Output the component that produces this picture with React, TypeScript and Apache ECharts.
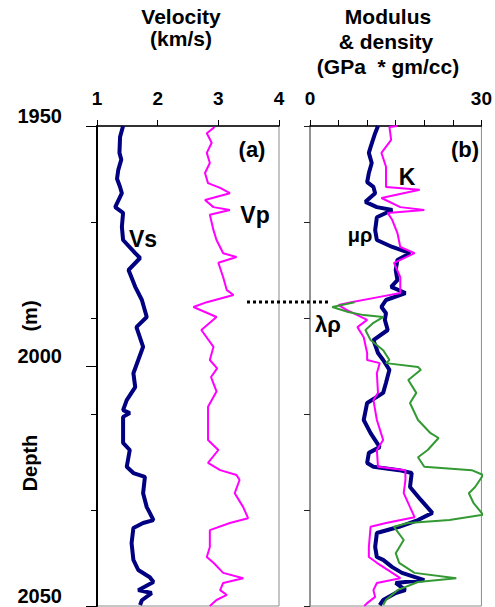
import React, { useEffect, useRef } from "react";
import * as echarts from "echarts";

// Depth axis and tick labels
const depthMin = 1950;
const depthMax = 2050;
const depthLabels = [1950, 2000, 2050];
const velocityTicks = [1, 2, 3, 4];
const modulusTickLabels = [0, 30];

// [depth (m), value] pairs
const vsLog: [number, number][] = [
  [1950, 1.43], [1952.3, 1.38], [1955.6, 1.37], [1957, 1.40], [1959.2, 1.35], [1961, 1.33],
  [1962.7, 1.38], [1964, 1.41], [1966.9, 1.30], [1968.1, 1.43], [1971, 1.41], [1973.75, 1.43],
  [1976.5, 1.63], [1977.5, 1.71], [1980, 1.52], [1983.5, 1.63], [1986.25, 1.74], [1989.8, 1.82],
  [1991.9, 1.65], [1996, 1.76], [1998.75, 1.68], [2001.5, 1.6], [2004.4, 1.63], [2007.1, 1.49],
  [2009.2, 1.43], [2009.8, 1.54], [2010.6, 1.43], [2016, 1.43], [2017.5, 1.54], [2021, 1.49],
  [2022.3, 1.6], [2023.1, 1.79], [2026.5, 1.76], [2029.4, 1.82], [2030.6, 1.87], [2032.1, 1.93],
  [2032.7, 1.76], [2033.75, 1.6], [2036.9, 1.57], [2040.4, 1.6], [2042.5, 1.68], [2044, 1.87],
  [2045, 1.93], [2046.7, 1.68], [2047.3, 1.9], [2048.8, 1.74], [2049.8, 1.71],
];

const vpLog: [number, number][] = [
  [1950.2, 2.94], [1951.5, 2.81], [1953.5, 2.89], [1955.6, 2.81], [1957.7, 2.86], [1959.8, 2.78],
  [1961.9, 2.83], [1962.9, 3.03], [1964, 3.19], [1965.4, 2.78], [1966.9, 2.92], [1967.5, 3.19],
  [1968.5, 2.86], [1971.7, 2.92], [1973.75, 2.97], [1976.5, 3.08], [1977.3, 3.3], [1978.5, 3.0],
  [1981.5, 3.08], [1984.2, 3.14], [1985.2, 3.25], [1986.7, 2.81], [1987.7, 2.59], [1989.8, 2.97],
  [1992.5, 2.72], [1996, 2.92], [1998.75, 2.86], [2000.5, 2.98], [2002.3, 2.88], [2005.3, 2.97],
  [2008.5, 2.83], [2015.4, 2.83], [2017.5, 3.0], [2020.2, 2.83], [2021.7, 3.03], [2022.7, 3.3],
  [2023.75, 3.35], [2026.5, 3.27], [2029.4, 3.41], [2031.7, 3.49], [2032.7, 3.19], [2034.2, 2.86],
  [2037.7, 2.86], [2039.8, 2.81], [2041, 2.92], [2043.1, 3.08], [2044.2, 3.41], [2045.2, 3.08],
  [2046.7, 3.03], [2047.7, 3.14], [2048.75, 2.97], [2050, 2.86],
];

const muRhoLog: [number, number][] = [
  [1950, 11.9], [1951.5, 11.4], [1954.4, 10.6], [1955.6, 10.3], [1957.7, 10.8], [1959.8, 10.3],
  [1961.7, 10.0], [1962.7, 11.1], [1964, 11.4], [1965.8, 9.7], [1966.9, 11.7], [1967.5, 14.4],
  [1969, 11.7], [1971.7, 11.4], [1973.75, 11.7], [1975.2, 14.4], [1976.5, 17.5], [1977.9, 15.3],
  [1980, 15], [1982.1, 15.3], [1983.5, 14.2], [1984.8, 16.7], [1986.25, 13.3], [1987.7, 12.5],
  [1989, 13.3], [1990.4, 13.1], [1992.5, 13.6], [1994.6, 11.1], [1997.3, 11.9], [1998.75, 12.8],
  [2000.8, 13.9], [2003.5, 13.3], [2005.6, 12.8], [2007.7, 10], [2011.25, 9.4], [2014, 10.6],
  [2016.9, 12.2], [2018.1, 10.3], [2020.2, 10], [2021, 11.1], [2021.7, 15.6], [2022.3, 17.8],
  [2025.2, 17.5], [2027.9, 19.4], [2030.6, 21.4], [2032.1, 18.9], [2033.5, 15.6], [2034.8, 11.7],
  [2037.7, 11.4], [2039.8, 11.7], [2040.4, 12.8], [2041.9, 14.4], [2043.1, 16.1], [2044.6, 20],
  [2045.2, 15], [2046.7, 16.7], [2047.3, 15], [2048.75, 12.8], [2049.8, 12.2],
];

const kLog: [number, number][] = [
  [1950, 15.3], [1950.2, 13.9], [1952.9, 14.2], [1955.6, 12.5], [1958.5, 13.3], [1962.7, 13.3],
  [1963.3, 19.2], [1965, 12.5], [1966.9, 15.8], [1967.5, 20], [1968.1, 13.6], [1969.6, 14.4],
  [1972.3, 15.3], [1975.2, 15.8], [1976.5, 18.3], [1978.5, 14.7], [1981.5, 15.8], [1984.8, 15.8],
  [1985.6, 12.2], [1986.7, 7.2], [1987.3, 5], [1988.3, 6.4], [1990.4, 10], [1991.9, 8.3],
  [1994, 9.4], [1997.3, 10], [1998.75, 10], [1999.4, 12.2], [2001.5, 11.7], [2005.6, 11.9],
  [2007.1, 11.1], [2011.25, 11.7], [2015.4, 12.8], [2017.5, 11.7], [2021, 11.9], [2021.7, 16.7],
  [2023.75, 16.7], [2026.5, 16.4], [2029.4, 17.5], [2031.5, 18.3], [2032.7, 13.3], [2033.5, 10.6],
  [2037.7, 10.3], [2039.8, 10.3], [2041, 11.7], [2043.1, 14.4], [2044.2, 15.8], [2045.2, 11.7],
  [2046.7, 11.1], [2048.1, 11.4], [2049.4, 10], [2050, 9.5],
];

const lambdaRhoLog: [number, number][] = [
  [1986.7, 7.8], [1987.7, 3.9], [1988.75, 6.7], [1989.4, 9.4], [1989.8, 12.8], [1991, 11.1],
  [1992.5, 9.7], [1994.6, 10.6], [1996.7, 12.8], [1998.75, 13.9], [1999.4, 13.3], [2000.2, 18.9],
  [2000.8, 19.4], [2002.9, 17.2], [2005.6, 18.6], [2007.7, 17.5], [2011.25, 18.9], [2014, 21.1],
  [2015, 22.5], [2017.5, 20.6], [2019, 18.9], [2021, 20], [2021.7, 28.3], [2022.7, 30.3],
  [2025.2, 28.9], [2026.5, 27.8], [2028.5, 28.6], [2031, 30.3], [2032.1, 24.4], [2032.7, 17.2],
  [2033.5, 14.7], [2036.25, 16.4], [2039, 15], [2041, 15.6], [2043.1, 18.3], [2044.2, 25.6],
  [2045, 18.9], [2046.7, 15.3], [2048.75, 13.3], [2049.8, 12.8],
];

const FONT = "'Liberation Sans', Arial, sans-serif";
const NAVY = "#000080";
const MAGENTA = "#FF00FF";
const GREEN = "#339933";

const toXY = (log: [number, number][]) => log.map(([d, v]) => [v, d]);

function txt(text: string, x: number, y: number, size = 20, extra: any = {}) {
  return {
    type: "text",
    x,
    y,
    ...extra,
    style: {
      text,
      fill: "#000",
      font: `bold ${size}px ${FONT}`,
      align: "center",
      verticalAlign: "middle",
      ...(extra.style || {}),
    },
  };
}

export default function App() {
  const ref = useRef<HTMLDivElement>(null);
  useEffect(() => {
    const chart = echarts.init(ref.current!, null, { renderer: "svg" });
    const labelStyle = { color: "#000", fontSize: 19, fontWeight: "bold" as const, fontFamily: FONT };
    const depthAxisBase = {
      type: "value" as const,
      inverse: true,
      min: depthMin,
      max: depthMax,
      position: "left" as const,
      splitLine: { show: false },
    };
    const option: any = {
      animation: false,
      backgroundColor: "#fff",
      grid: [
        { left: 97, top: 126, width: 182, height: 480, show: true, borderColor: "#8c8c8c", borderWidth: 1 },
        { left: 310, top: 126, width: 180, height: 480, show: true, borderColor: "#8c8c8c", borderWidth: 1 },
      ],
      xAxis: [
        {
          gridIndex: 0,
          type: "value",
          position: "top",
          min: velocityTicks[0],
          max: velocityTicks[velocityTicks.length - 1],
          interval: 1,
          axisLine: { show: true, lineStyle: { color: "#000", width: 1.5 } },
          axisTick: { show: true, length: 6, lineStyle: { color: "#000", width: 1 } },
          axisLabel: { ...labelStyle, margin: 18 },
          splitLine: { show: false },
        },
        {
          gridIndex: 1,
          type: "value",
          position: "top",
          min: modulusTickLabels[0],
          max: modulusTickLabels[1],
          interval: 5,
          axisLine: { show: true, lineStyle: { color: "#000", width: 1.5 } },
          axisTick: { show: true, length: 6, lineStyle: { color: "#000", width: 1 } },
          axisLabel: {
            ...labelStyle,
            margin: 18,
            formatter: (v: number) => (modulusTickLabels.includes(v) ? String(v) : ""),
          },
          splitLine: { show: false },
        },
      ],
      yAxis: [
        {
          ...depthAxisBase,
          gridIndex: 0,
          interval: 20,
          axisLine: { show: true, lineStyle: { color: "#000", width: 2 } },
          axisTick: { show: true, length: 6, lineStyle: { color: "#000", width: 1 } },
          axisLabel: { show: false },
        },
        {
          ...depthAxisBase,
          gridIndex: 0,
          interval: 50,
          axisLine: { show: false },
          axisTick: { show: true, length: 11, lineStyle: { color: "#000", width: 1 } },
          axisLabel: {
            ...labelStyle,
            fontSize: 20,
            margin: 35,
            verticalAlign: "bottom",
            formatter: (v: number) => (depthLabels.includes(v) ? String(v) : ""),
          },
        },
        {
          ...depthAxisBase,
          gridIndex: 1,
          interval: 20,
          axisLine: { show: true, lineStyle: { color: "#808080", width: 1.5 } },
          axisTick: { show: true, length: 6, lineStyle: { color: "#222", width: 1 } },
          axisLabel: { show: false },
        },
      ],
      series: [
        {
          type: "line", xAxisIndex: 0, yAxisIndex: 0, data: toXY(vsLog), showSymbol: false,
          lineStyle: { color: NAVY, width: 4 }, z: 3,
        },
        {
          type: "line", xAxisIndex: 0, yAxisIndex: 0, data: toXY(vpLog), showSymbol: false,
          lineStyle: { color: MAGENTA, width: 2 }, z: 3,
        },
        {
          type: "line", xAxisIndex: 1, yAxisIndex: 2, data: toXY(muRhoLog), showSymbol: false,
          lineStyle: { color: NAVY, width: 4 }, z: 3,
        },
        {
          type: "line", xAxisIndex: 1, yAxisIndex: 2, data: toXY(kLog), showSymbol: false,
          lineStyle: { color: MAGENTA, width: 2 }, z: 4,
        },
        {
          type: "line", xAxisIndex: 1, yAxisIndex: 2, data: toXY(lambdaRhoLog), showSymbol: false,
          lineStyle: { color: GREEN, width: 2 }, z: 4, clip: false,
        },
      ],
      graphic: [
        txt("Velocity", 181, 16, 21),
        txt("(km/s)", 181, 38, 21),
        txt("Modulus", 388, 16, 21),
        txt("& density", 386, 41, 21),
        txt("(GPa  * gm/cc)", 388, 66, 21),
        txt("Depth", 30, 463, 20, { rotation: Math.PI / 2 }),
        txt("(m)", 30, 316, 20, { rotation: Math.PI / 2 }),
        txt("(a)", 252, 149, 22),
        txt("(b)", 465, 149, 22),
        txt("Vp", 255, 215, 23),
        txt("Vs", 143, 239, 23),
        txt("K", 407, 177, 23),
        txt("μρ", 360, 235, 20),
        txt("λρ", 328, 324, 22),
        {
          type: "line",
          shape: { x1: 247, y1: 302, x2: 330, y2: 302 },
          style: { stroke: "#000", lineWidth: 3, lineDash: [3, 3] },
          z: 10,
        },
      ],
    };
    chart.setOption(option);
    return () => chart.dispose();
  }, []);
  return <div ref={ref} style={{ position: "fixed", left: 0, top: 0, width: 495, height: 607 }} />;
}
